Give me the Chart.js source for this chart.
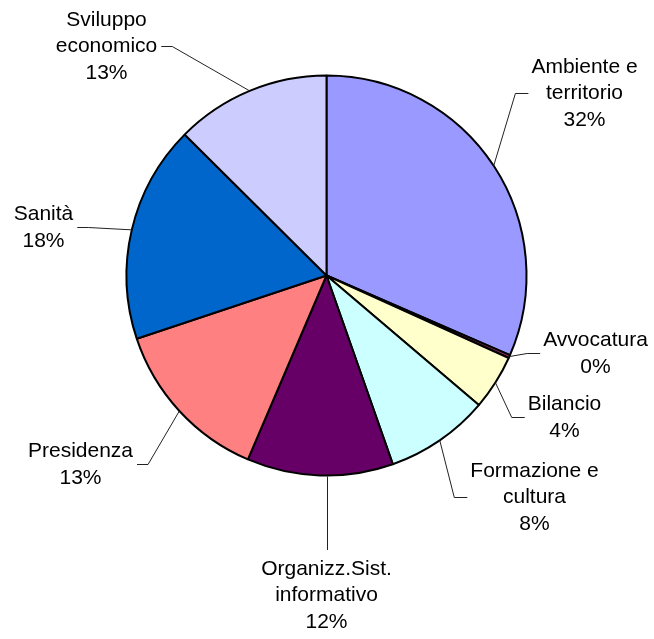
<!DOCTYPE html>
<html>
<head>
<meta charset="utf-8">
<script src="https://cdn.jsdelivr.net/npm/chart.js@4.4.1/dist/chart.umd.min.js"></script>
<style>
  body { margin: 0; background: #fff; }
  canvas { display: block; }
</style>
</head>
<body>
<canvas id="pie" width="654" height="639"></canvas>
<script>
// settori (in senso orario dalle ore 12)
let labels = [
    ['Ambiente e', 'territorio'],
    ['Avvocatura'],
    ['Bilancio'],
    ['Formazione e', 'cultura'],
    ['Organizz.Sist.', 'informativo'],
    ['Presidenza'],
    ['Sanità'],
    ['Sviluppo', 'economico']
];
let values = [31.5, 0.25, 4.45, 8.4, 11.8, 13.45, 17.55, 12.55];
let colors = ['#9999ff', '#993366', '#ffffcc', '#ccffff', '#660066', '#ff8080', '#0066cc', '#ccccff'];

// posizione etichette rispetto al centro (in raggi) e lato del collegamento
let labelPos = [
    [1.29, -0.91, 'L'],
    [1.345, 0.39, 'L'],
    [1.19, 0.71, 'L'],
    [1.04, 1.11, 'L'],
    [0, 1.60, 'T'],
    [-1.23, 0.945, 'R'],
    [-1.415, -0.24, 'R'],
    [-1.10, -1.145, 'R']
];

const FONT = '21px "Liberation Sans", Arial, sans-serif';
const LINE_H = 26.5;

let labelPlugin = {
    id: 'pieLabels',
    afterDatasetsDraw(chart) {
        let ctx = chart.ctx;
        let meta = chart.getDatasetMeta(0);
        let total = values.reduce((a, b) => a + b, 0);
        ctx.save();
        ctx.font = FONT;
        ctx.fillStyle = '#000';
        ctx.textAlign = 'center';
        ctx.textBaseline = 'middle';
        meta.data.forEach(function (arc, i) {
            let r = arc.outerRadius;
            let mid = (arc.startAngle + arc.endAngle) / 2;
            let px = arc.x + Math.cos(mid) * r;
            let py = arc.y + Math.sin(mid) * r;
            let lines = labels[i].concat([Math.round(values[i] / total * 100) + '%']);
            let cx = arc.x + labelPos[i][0] * r;
            let cy = arc.y + labelPos[i][1] * r;
            let w = Math.max.apply(null, lines.map(l => ctx.measureText(l).width));
            let top = cy - (lines.length - 1) / 2 * LINE_H;

            lines.forEach(function (l, k) {
                ctx.fillText(l, cx, top + k * LINE_H);
            });

            // linea di collegamento
            ctx.beginPath();
            ctx.strokeStyle = '#222';
            ctx.lineWidth = 1;
            let side = labelPos[i][2];
            if (side === 'T') {
                let x = Math.round(cx) + 0.5;
                let dx = x - arc.x;
                ctx.moveTo(x, arc.y + Math.sqrt(r * r - dx * dx) + 1);
                ctx.lineTo(x, top - 19);
            } else {
                let edge = side === 'L' ? cx - w / 2 - 3 : cx + w / 2 + 4;
                let elbow = side === 'L' ? edge - 13 : edge + 11;
                ctx.moveTo(px, py);
                ctx.lineTo(elbow, cy);
                ctx.lineTo(edge, cy);
            }
            ctx.stroke();
        });
        ctx.restore();
    }
};

let chart = new Chart(document.getElementById('pie'), {
    type: 'pie',
    data: {
        labels: labels.map(l => l.join(' ')),
        datasets: [{
            data: values,
            backgroundColor: colors,
            borderColor: '#000',
            borderWidth: 2
        }]
    },
    options: {
        responsive: false,
        animation: false,
        radius: 200,
        layout: { padding: { left: 0, right: 1, top: 0, bottom: 88 } },
        plugins: {
            legend: { display: false },
            tooltip: { enabled: false }
        }
    },
    plugins: [labelPlugin]
});
</script>
</body>
</html>
